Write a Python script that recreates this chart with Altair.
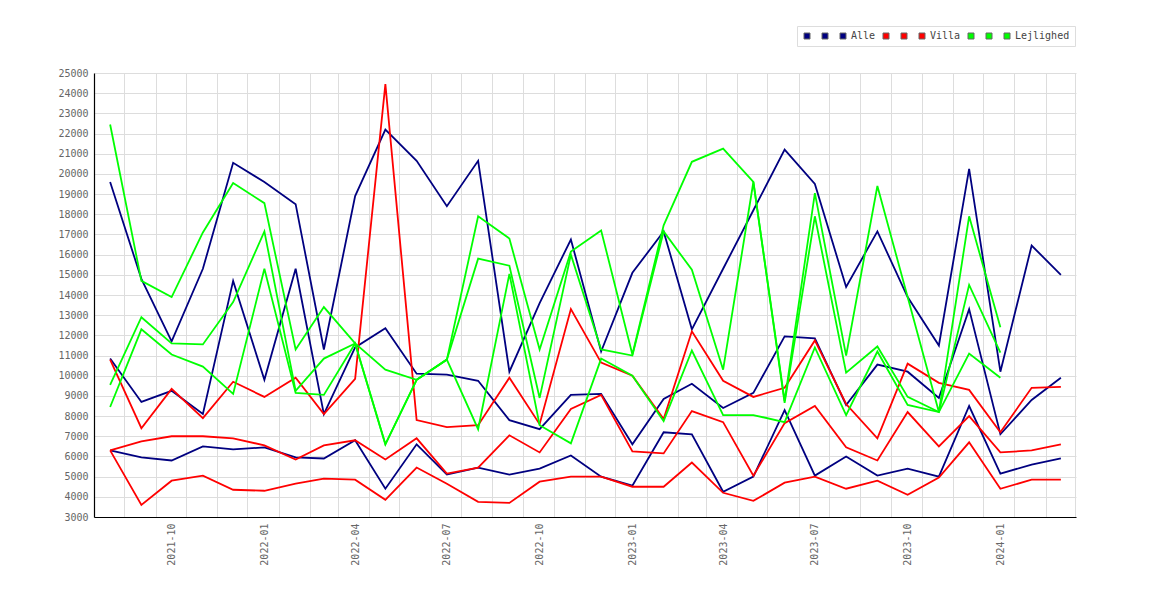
import altair as alt
import pandas as pd

months = ["2021-08", "2021-09", "2021-10", "2021-11", "2021-12", "2022-01", "2022-02", "2022-03",
          "2022-04", "2022-05", "2022-06", "2022-07", "2022-08", "2022-09", "2022-10", "2022-11",
          "2022-12", "2023-01", "2023-02", "2023-03", "2023-04", "2023-05", "2023-06", "2023-07",
          "2023-08", "2023-09", "2023-10", "2023-11", "2023-12", "2024-01", "2024-02", "2024-03"]

alle_1 = [19600, 14800, 11700, 15300, 20550, 19600, 18500, 11300, 18900, 22200, 20650, 18400,
          20650, 10200, 13600, 16750, 11200, 15100, 17150, 12300, 15300, 18200, 21200, 19500,
          14400, 17150, 13900, 11500, 20250, 10200, 16450, 15000]
alle_2 = [10850, 8700, 9250, 8100, 14700, 9800, 15300, 8100, 11400, 12350, 10100, 10050,
          9750, 7800, 7350, 9050, 9100, 6600, 8850, 9600, 8400, 9150, 11950, 11850,
          8550, 10550, 10200, 8900, 13300, 7100, 8800, 9900]
alle_3 = [6300, 5950, 5800, 6500, 6350, 6450, 5950, 5900, 6800, 4400, 6600, 5100,
          5450, 5100, 5400, 6050, 5000, 4550, 7200, 7100, 4250, 5000, 8300, 5050,
          6000, 5050, 5400, 5000, 8500, 5150, 5600, 5900]

villa_1 = [10800, 7400, 9350, 7900, 9700, 8950, 9900, 8100, 9850, 24450, 7800, 7450,
           7550, 9900, 7600, 13300, 10650, 10000, 7850, 12200, 9750, 8950, 9400, 11750,
           8600, 6900, 10600, 9650, 9300, 7200, 9400, 9450]
villa_2 = [6300, 6750, 7000, 7000, 6900, 6550, 5850, 6550, 6800, 5850, 6900, 5150,
           5450, 7050, 6200, 8350, 9050, 6250, 6150, 8250, 7700, 5050, 7650, 8500,
           6450, 5800, 8200, 6500, 8000, 6200, 6300, 6600]
villa_3 = [6300, 3600, 4800, 5050, 4350, 4300, 4650, 4900, 4850, 3850, 5450, 4650,
           3750, 3700, 4750, 5000, 5000, 4500, 4500, 5700, 4200, 3800, 4700, 5000,
           4400, 4800, 4100, 4950, 6700, 4400, 4850, 4850]

lej_1 = [22450, 14700, 13900, 17100, 19550, 18550, 11300, 13400, 11600, 10300, 9800, 10800,
         17900, 16800, 11300, 16150, 17200, 11050, 17450, 20600, 21250, 19600, 8750, 19050,
         11000, 19400, 13900, 8200, 17900, 12400]
lej_2 = [9550, 12900, 11600, 11550, 13650, 17150, 9250, 10850, 11600, 6600, 9800, 10800,
         15800, 15450, 8900, 16000, 11300, 11000, 17150, 15250, 10300, 19600, 8650, 17900,
         10150, 11450, 8950, 8200, 14500, 11150]
lej_3 = [8450, 12300, 11050, 10450, 9100, 15300, 9150, 9050, 11600, 6600, 9800, 10800,
         7350, 15050, 7550, 6650, 10850, 10000, 7750, 11250, 8050, 8050, 7700, 11400,
         8050, 11200, 8550, 8200, 11100, 9900]

series_names = ["Alle-1", "Alle-2", "Alle", "Villa-1", "Villa-2", "Villa",
                "Lejlighed-1", "Lejlighed-2", "Lejlighed"]
series_values = [alle_1, alle_2, alle_3, villa_1, villa_2, villa_3, lej_1, lej_2, lej_3]
series_colors = ["#000080", "#000080", "#000080", "#ff0000", "#ff0000", "#ff0000",
                 "#00ff00", "#00ff00", "#00ff00"]

label_ticks = ["2021-10", "2022-01", "2022-04", "2022-07", "2022-10", "2023-01",
               "2023-04", "2023-07", "2023-10", "2024-01"]
y_ticks = list(range(3000, 25001, 1000))

rows = []
for name, vals in zip(series_names, series_values):
    for m, v in zip(months, vals):
        rows.append({"date": m + "-01", "series": name, "value": v})
df = pd.DataFrame(rows)


def dt(s, day):
    y, mo = s.split("-")
    return alt.DateTime(year=int(y), month=int(mo), date=day, utc=True)


grid_ticks = [dt(m, 15) for m in months]
x_scale = alt.Scale(type="utc", domain=[dt("2021-07", 16), dt("2024-03", 16)])
y_scale = alt.Scale(domain=[3000, 25000], nice=False, zero=False)

FONT = "DejaVu Sans Mono"

y_axis = alt.Axis(values=y_ticks, format="d", grid=True, gridColor="#dddddd", gridWidth=1, ticks=False,
                  labelPadding=6, labelFont=FONT, labelFontSize=10, labelColor="#666666",
                  domainColor="#000000", domainWidth=1.2, title=None)

color_scale = alt.Scale(domain=series_names, range=series_colors)

lines = alt.Chart(df).mark_line(strokeWidth=1.8, clip=True).encode(
    x=alt.X("date:T", scale=x_scale,
            axis=alt.Axis(orient="bottom", values=[dt(t, 1) for t in label_ticks], format="%Y-%m",
                          labelAngle=-90, grid=False, ticks=False, labelPadding=6,
                          labelFont=FONT, labelFontSize=10, labelColor="#666666",
                          domainColor="#000000", domainWidth=1.2, title=None)),
    y=alt.Y("value:Q", scale=y_scale, axis=y_axis),
    color=alt.Color("series:N", scale=color_scale, legend=None),
    detail="series:N",
)

grid = alt.Chart(df).mark_point(opacity=0).encode(
    x=alt.X("date:T", scale=x_scale,
            axis=alt.Axis(orient="top", values=grid_ticks, grid=True, gridColor="#dddddd",
                          gridWidth=1, labels=False, ticks=False, domain=False, title=None)),
    y=alt.Y("value:Q", scale=y_scale, axis=y_axis),
)

legend_pts = alt.Chart(df).mark_point(filled=True, shape="square", size=0, opacity=1).encode(
    x=alt.X("date:T", scale=x_scale, axis=None),
    y=alt.Y("value:Q", scale=y_scale, axis=y_axis),
    color=alt.Color("series:N", scale=color_scale,
                    legend=alt.Legend(orient="none", legendX=703, legendY=-47, direction="horizontal",
                                      title=None, symbolType="square", symbolSize=36,
                                      symbolStrokeColor="#666666", symbolStrokeWidth=1,
                                      labelFont=FONT, labelFontSize=10, labelColor="#444444",
                                      labelOffset=3, columnPadding=5, padding=5,
                                      strokeColor="#dddddd", fillColor="#ffffff",
                                      labelExpr="indexof(datum.label, '-') >= 0 ? '  ' : datum.label")),
)

chart = alt.layer(grid, lines, legend_pts).resolve_axis(x="independent").resolve_legend(
    color="independent"
).properties(
    width=982, height=444,
    autosize=alt.AutoSizeParams(type="none"),
    padding={"left": 86, "top": 65, "right": 80, "bottom": 70},
).configure_view(stroke=None)

chart.save("out.html", embed_options={"renderer": "svg", "actions": False})
